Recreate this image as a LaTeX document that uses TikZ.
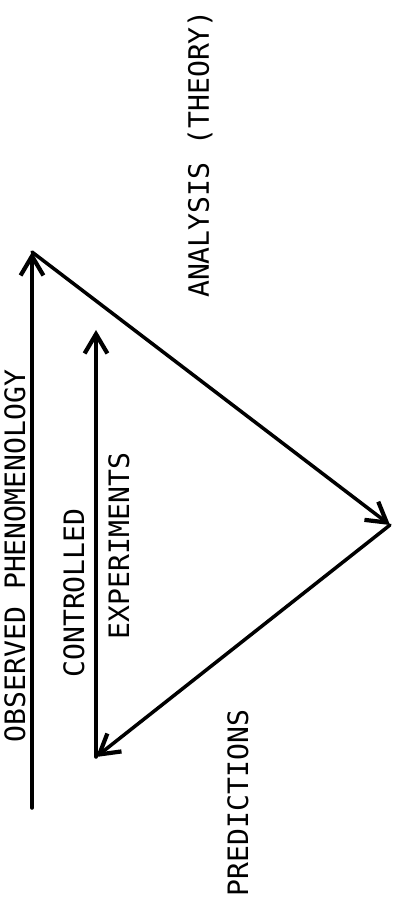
\documentclass[tikz,border=0pt]{standalone}
\usepackage{fontspec}
\setmonofont{DejaVu Sans Mono}
\usetikzlibrary{arrows.meta}

\begin{document}
\begin{tikzpicture}[
    x=0.02cm, y=-0.02cm,
    lbl/.style={rotate=90, inner sep=0pt,
        font=\ttfamily\fontsize{16}{16}\selectfont},
    flow/.style={line width=2pt, line cap=round,
        -{Straight Barb[length=11pt,width=13pt,line width=2.4pt]}}
]
\useasboundingbox (0,0) rectangle (394,911);

\coordinate (obsbase) at (32,808);
\coordinate (obstop) at (32,252);
\coordinate (apex) at (390,525);
\coordinate (predtip) at (96,757);
\coordinate (ctrltop) at (96,330);

\draw[flow] (obsbase) -- (obstop);
\draw[flow] (obstop) -- (apex);
\draw[flow] (apex) -- (predtip);
\draw[flow] (predtip) -- (ctrltop);

\node[lbl] (obs) at (15,556) {OBSERVED PHENOMENOLOGY};
\node[lbl] (ctrl) at (74,593) {CONTROLLED};
\node[lbl] (expt) at (119,546) {EXPERIMENTS};
\node[lbl] (anal) at (200,154) {ANALYSIS (THEORY)};
\node[lbl] (pred) at (238,803) {PREDICTIONS};
\end{tikzpicture}
\end{document}
